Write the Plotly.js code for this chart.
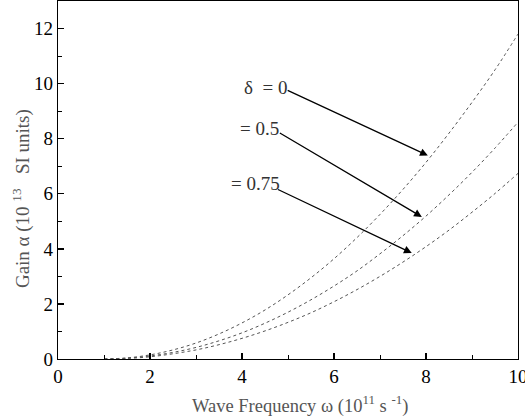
<!DOCTYPE html>
<html>
<head>
<meta charset="utf-8">
<script src="https://cdn.plot.ly/plotly-3.0.1.min.js"></script>
<style>html,body{margin:0;padding:0;background:#fff;}#chart{width:525px;height:418px;}</style>
</head>
<body>
<div id="chart"></div>
<script>
// Wave frequency (10^11 s^-1)
const omega = [1, 1.5, 2, 2.5, 3, 3.5, 4, 4.5, 5, 5.5, 6, 6.5, 7, 7.5, 8, 8.5, 9, 9.5, 10];
// Gain alpha (10^13 SI units)
const gainDelta0   = [0, 0.04, 0.15, 0.33, 0.58, 0.91, 1.31, 1.78, 2.33, 2.95, 3.64, 4.41, 5.25, 6.16, 7.14, 8.2, 9.32, 10.5, 11.8];
const gainDelta05  = [0, 0.03, 0.11, 0.24, 0.42, 0.66, 0.95, 1.3, 1.7, 2.15, 2.65, 3.2, 3.82, 4.48, 5.19, 5.96, 6.78, 7.66, 8.6];
const gainDelta075 = [0, 0.02, 0.08, 0.19, 0.33, 0.52, 0.75, 1.02, 1.33, 1.68, 2.08, 2.52, 3.0, 3.52, 4.08, 4.68, 5.33, 6.01, 6.74];

const labels = ["δ  = 0", "= 0.5", "= 0.75"];
const labelX = [4.52, 4.37, 4.29];
const labelY = [9.86, 8.37, 6.38];
const arrowTailX = [4.96, 4.79, 4.75];
const arrowTailY = [9.78, 8.24, 6.18];
const arrowHeadX = [8.04, 7.91, 7.69];
const arrowHeadY = [7.39, 5.16, 3.85];

const serif = "Liberation Serif";
const lineStyle = {color: "#555", width: 1, dash: "3px,3px", shape: "spline"};

const traces = [gainDelta0, gainDelta05, gainDelta075].map((g) => ({
  x: omega, y: g, type: "scatter", mode: "lines", line: lineStyle,
  showlegend: false, hoverinfo: "skip"
}));

const annotations = [];
labels.forEach((t, i) => {
  annotations.push({x: labelX[i], y: labelY[i], xref: "x", yref: "y", text: t, showarrow: false,
    font: {family: serif, size: 19, color: "#333"}});
  annotations.push({x: arrowHeadX[i], y: arrowHeadY[i], ax: arrowTailX[i], ay: arrowTailY[i],
    xref: "x", yref: "y", axref: "x", ayref: "y", text: "", showarrow: true,
    arrowhead: 2, arrowsize: 1.2, arrowwidth: 1.3, arrowcolor: "#000"});
});
annotations.push({xref: "paper", yref: "paper", x: -0.078, y: 0.447, xanchor: "center", yanchor: "middle",
  text: "Gain α (10&nbsp;<sup>13</sup>&nbsp;&nbsp;&nbsp;SI units)",
  textangle: -90, showarrow: false, font: {family: serif, size: 19, color: "#555"}});
annotations.push({xref: "paper", yref: "paper", x: 0.526, y: -0.126, xanchor: "center", yanchor: "middle",
  text: "Wave Frequency ω (10<sup>11</sup> s <sup>-1</sup>)", showarrow: false,
  font: {family: serif, size: 18.5, color: "#555"}});

const axisCommon = {
  showline: true, linecolor: "#000", linewidth: 1.3, mirror: true,
  ticks: "inside", ticklen: 6, tickwidth: 1.3, tickcolor: "#000",
  showgrid: false, zeroline: false, ticklabeloverflow: "allow",
  tickfont: {family: serif, size: 19, color: "#000"},
  minor: {ticks: "inside", ticklen: 4, tickwidth: 1, tickcolor: "#000", dtick: 1, showgrid: false}
};

const layout = {
  width: 525, height: 418,
  margin: {l: 58, r: 7, t: 1, b: 59},
  paper_bgcolor: "#fff", plot_bgcolor: "#fff",
  xaxis: Object.assign({}, axisCommon, {range: [0, 10], dtick: 2, tick0: 0}),
  yaxis: Object.assign({}, axisCommon, {range: [0, 13], dtick: 2, tick0: 0}),
  annotations: annotations,
  showlegend: false
};

Plotly.newPlot("chart", traces, layout, {staticPlot: true, displayModeBar: false});
</script>
</body>
</html>
